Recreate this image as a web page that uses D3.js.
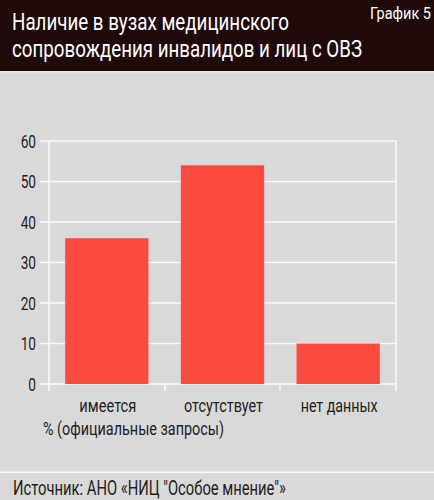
<!DOCTYPE html>
<html><head><meta charset="utf-8">
<script src="https://cdn.jsdelivr.net/npm/d3@7"></script>
<style>
html,body{margin:0;padding:0;background:#d9d9d9;}
svg{display:block;}
text{font-family:"Roboto","Liberation Sans",sans-serif;}
</style></head>
<body>
<script>
const title = ["Наличие в вузах медицинского", "сопровождения инвалидов и лиц с ОВЗ"];
const chartLabel = "График 5";
const categories = ["имеется", "отсутствует", "нет данных"];
const values = [36, 54, 10];
const yTicks = [0, 10, 20, 30, 40, 50, 60];
const unitLabel = "% (официальные запросы)";
const source = "Источник: АНО «НИЦ \"Особое мнение\"»";

const W = 434, H = 500;
const SX = 0.76; // horizontal condensing
const svg = d3.select("body").append("svg").attr("width", W).attr("height", H);
svg.append("rect").attr("width", W).attr("height", H).attr("fill", "#d9d9d9");
svg.append("rect").attr("width", W).attr("height", 71).attr("fill", "#1f0909");
svg.append("rect").attr("y", 71).attr("width", W).attr("height", 1.5).attr("fill", "#ececec");

function ctext(px, py, str, size, anchor, fill, width) {
  const g = svg.append("g").attr("transform", `translate(${px},${py}) scale(${SX},1)`);
  const t = g.append("text").attr("x", 0).attr("y", 0).attr("text-anchor", anchor)
    .attr("font-size", size).attr("fill", fill).text(str);
  if (width) t.attr("textLength", width / SX).attr("lengthAdjust", "spacingAndGlyphs");
  return t;
}

ctext(12, 30, title[0], 23.5, "start", "#fff", 277);
ctext(12, 57, title[1], 23.5, "start", "#fff", 350);
ctext(431, 19, chartLabel, 16.5, "end", "#fff", 61);

const x = d3.scaleBand().domain(categories).range([49, 396]).paddingInner(0.28).paddingOuter(0.14);
const y = d3.scaleLinear().domain([0, 60]).range([384, 141]);

// gridlines
svg.append("g").selectAll("line").data(yTicks).join("line")
  .attr("x1", 40).attr("x2", 396).attr("y1", d => y(d)).attr("y2", d => y(d))
  .attr("stroke", "#f8f8f8").attr("stroke-width", 1.5);
// vertical frame lines
[49, 396].forEach(px => svg.append("line").attr("x1", px).attr("x2", px)
  .attr("y1", y(60)).attr("y2", 391).attr("stroke", "#f8f8f8").attr("stroke-width", 1.5));
// category separator ticks
const seps = [165, 280];
svg.append("g").selectAll("line").data(seps).join("line")
  .attr("x1", d => d).attr("x2", d => d).attr("y1", 384).attr("y2", 391)
  .attr("stroke", "#f8f8f8").attr("stroke-width", 1.5);

// y labels
yTicks.forEach(d => ctext(36, y(d) + 6.5, String(d), 18, "end", "#1e1e1e"));

// bars
svg.append("g").selectAll("rect").data(values).join("rect")
  .attr("x", (d, i) => x(categories[i])).attr("width", x.bandwidth())
  .attr("y", d => y(d)).attr("height", d => y(0) - y(d))
  .attr("fill", "#fb4a40");

// category labels
const catW = [57, 79, 77];
categories.forEach((c, i) => ctext(x(c) + x.bandwidth() / 2 + 1, 412, c, 18, "middle", "#1e1e1e", catW[i]));

ctext(43, 434.5, unitLabel, 18, "start", "#1e1e1e", 181);

svg.append("rect").attr("y", 471.5).attr("width", W).attr("height", 1.5).attr("fill", "#f8f8f8");
ctext(13, 495, source, 19.5, "start", "#1e1e1e", 273);
</script>
</body></html>
